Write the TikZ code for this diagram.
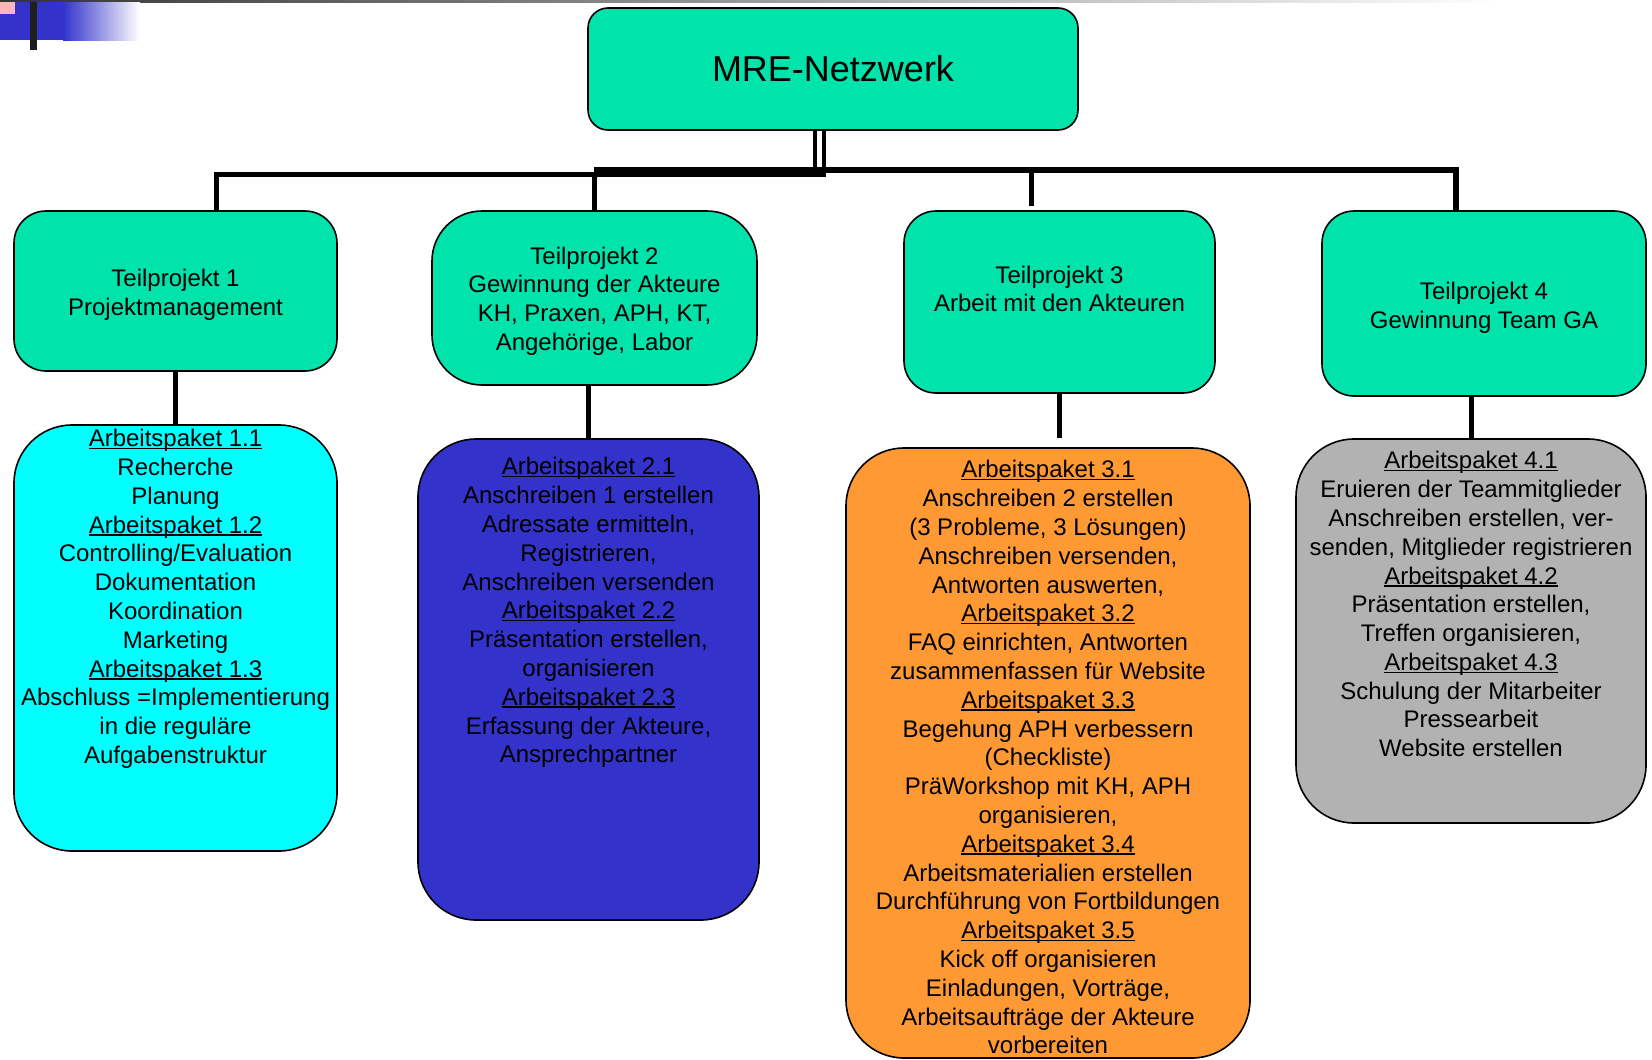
\documentclass[tikz,border=0pt]{standalone}
\usepackage{fontspec}
\setmainfont{Liberation Sans}
\definecolor{tpgreen}{RGB}{0,227,171}
\definecolor{apcyan}{RGB}{0,255,255}
\definecolor{apblue}{RGB}{51,51,204}
\definecolor{aporange}{RGB}{255,153,51}
\definecolor{apgray}{RGB}{178,178,178}
\definecolor{decopink}{RGB}{255,182,182}
\newcommand{\apline}[1]{\setbox0=\hbox{#1}\rlap{\rule[-2.6pt]{\wd0}{1.4pt}}\box0}
\tikzset{
	box/.style={draw=black, line width=1.6pt, rectangle, inner sep=0pt},
	tp/.style={box, fill=tpgreen, rounded corners=32pt},
	ap/.style={box, rounded corners=58pt},
	aptext/.style={inner sep=0pt, anchor=north, align=center, font=\fontsize{24}{28.8}\selectfont},
	bar/.style={line width=5pt}
}

\begin{document}
\begin{tikzpicture}[x=1pt, y=-1pt]
		%%%%% START %%%%%
		\useasboundingbox (0, 0) rectangle (1652, 1060);
		
		% corner decoration
		\shade[left color=black!80, right color=white] (0, 0) rectangle (1500, 2);
		\fill[apblue] (0, 2) rectangle (63, 40);
		\shade[left color=apblue, right color=white] (63, 2) rectangle (140, 40);
		\fill[decopink] (0, 2) rectangle (15, 14);
		\fill[black!88] (30, 2) rectangle (37, 50);
		
		\node[box, fill=tpgreen, rounded corners=20pt, minimum width=490pt, minimum height=122pt,
			font=\fontsize{36}{43}\selectfont] (mre) at (833, 69) {MRE-Netzwerk};
		
		\node[tp, minimum width=323pt, minimum height=160pt] (tp1) at (175.5, 291) {};
		\node[tp, rounded corners=50pt, minimum width=325pt, minimum height=174pt] (tp2) at (594.5, 298) {};
		\node[tp, minimum width=311pt, minimum height=182pt] (tp3) at (1059.5, 302) {};
		\node[tp, minimum width=324pt, minimum height=185pt] (tp4) at (1484, 303.5) {};
		
		\node[aptext, anchor=center] (tp1txt) at ([yshift=-4pt]tp1.center) {Teilprojekt 1\\Projektmanagement};
		\node[aptext, anchor=center] (tp2txt) at ([yshift=-3pt]tp2.center)
			{Teilprojekt 2\\Gewinnung der Akteure\\KH, Praxen, APH, KT,\\Angehörige, Labor};
		\node[aptext, anchor=center] (tp3txt) at ([yshift=13pt]tp3.center) {Teilprojekt 3\\Arbeit mit den Akteuren};
		\node[aptext, anchor=center] (tp4txt) at ([yshift=-4pt]tp4.center) {Teilprojekt 4\\Gewinnung Team GA};
		
		\node[ap, fill=apcyan, minimum width=323pt, minimum height=426pt] (ap1) at (175.5, 638) {};
		\node[ap, fill=apblue, minimum width=341pt, minimum height=481pt] (ap2) at (588.5, 679.5) {};
		\node[ap, fill=aporange, minimum width=404pt, minimum height=610pt] (ap3) at (1048, 753) {};
		\node[ap, fill=apgray, minimum width=350pt, minimum height=384pt] (ap4) at (1471, 631) {};
		
		\node[aptext] (ap1txt) at ([yshift=-5pt]ap1.north) {\apline{Arbeitspaket 1.1}\\Recherche\\Planung\\
			\apline{Arbeitspaket 1.2}\\Controlling/Evaluation\\Dokumentation\\Koordination\\Marketing\\
			\apline{Arbeitspaket 1.3}\\Abschluss =Implementierung\\in die reguläre\\Aufgabenstruktur};
		\node[aptext] (ap2txt) at ([yshift=-19pt]ap2.north) {\apline{Arbeitspaket 2.1}\\Anschreiben 1 erstellen\\
			Adressate ermitteln,\\Registrieren,\\Anschreiben versenden\\\apline{Arbeitspaket 2.2}\\
			Präsentation erstellen,\\organisieren\\\apline{Arbeitspaket 2.3}\\Erfassung der Akteure,\\Ansprechpartner};
		\node[aptext] (ap3txt) at ([yshift=-13pt]ap3.north) {\apline{Arbeitspaket 3.1}\\Anschreiben 2 erstellen\\
			(3 Probleme, 3 Lösungen)\\Anschreiben versenden,\\Antworten auswerten,\\\apline{Arbeitspaket 3.2}\\
			FAQ einrichten, Antworten\\zusammenfassen für Website\\\apline{Arbeitspaket 3.3}\\
			Begehung APH verbessern\\(Checkliste)\\PräWorkshop mit KH, APH\\organisieren,\\
			\apline{Arbeitspaket 3.4}\\Arbeitsmaterialien erstellen\\Durchführung von Fortbildungen\\
			\apline{Arbeitspaket 3.5}\\Kick off organisieren\\Einladungen, Vorträge,\\
			Arbeitsaufträge der Akteure\\vorbereiten};
		\node[aptext] (ap4txt) at ([yshift=-13pt]ap4.north) {\apline{Arbeitspaket 4.1}\\Eruieren der Teammitglieder\\
			Anschreiben erstellen, ver-\\senden, Mitglieder registrieren\\\apline{Arbeitspaket 4.2}\\
			Präsentation erstellen,\\Treffen organisieren,\\\apline{Arbeitspaket 4.3}\\
			Schulung der Mitarbeiter\\Pressearbeit\\Website erstellen};
		
		% bus lines
		\coordinate (d1) at (216, 174.5);
		\coordinate (d2) at (594, 172);
		\coordinate (d3) at (1031, 170);
		\coordinate (d4) at (1456, 170);
		
		\draw[line width=4pt] (815, 130) -- (815, 177);
		\draw[line width=4pt] (824, 130) -- (824, 177);
		\draw[bar] (d1 |- tp1.north) -- (d1) -- (826, 174.5);
		\draw[line width=10pt] (d2) -- (826, 172);
		\draw[bar] (d2) -- (d2 |- tp2.north);
		\draw[line width=6pt] (813, 170) -- (d4) -- (d4 |- tp4.north);
		\draw[bar, shorten >=4pt] (d3) -- (d3 |- tp3.north);
		
		\draw[bar] (tp1.south) -- (ap1.north);
		\draw[bar] (ap2.north |- tp2.south) -- (ap2.north);
		\draw[bar] (tp3.south) -- ([yshift=-44pt]tp3.south);
		\draw[bar] (ap4.north |- tp4.south) -- (ap4.north);
		
		%%%%% END %%%%%
	\end{tikzpicture}
\end{document}
